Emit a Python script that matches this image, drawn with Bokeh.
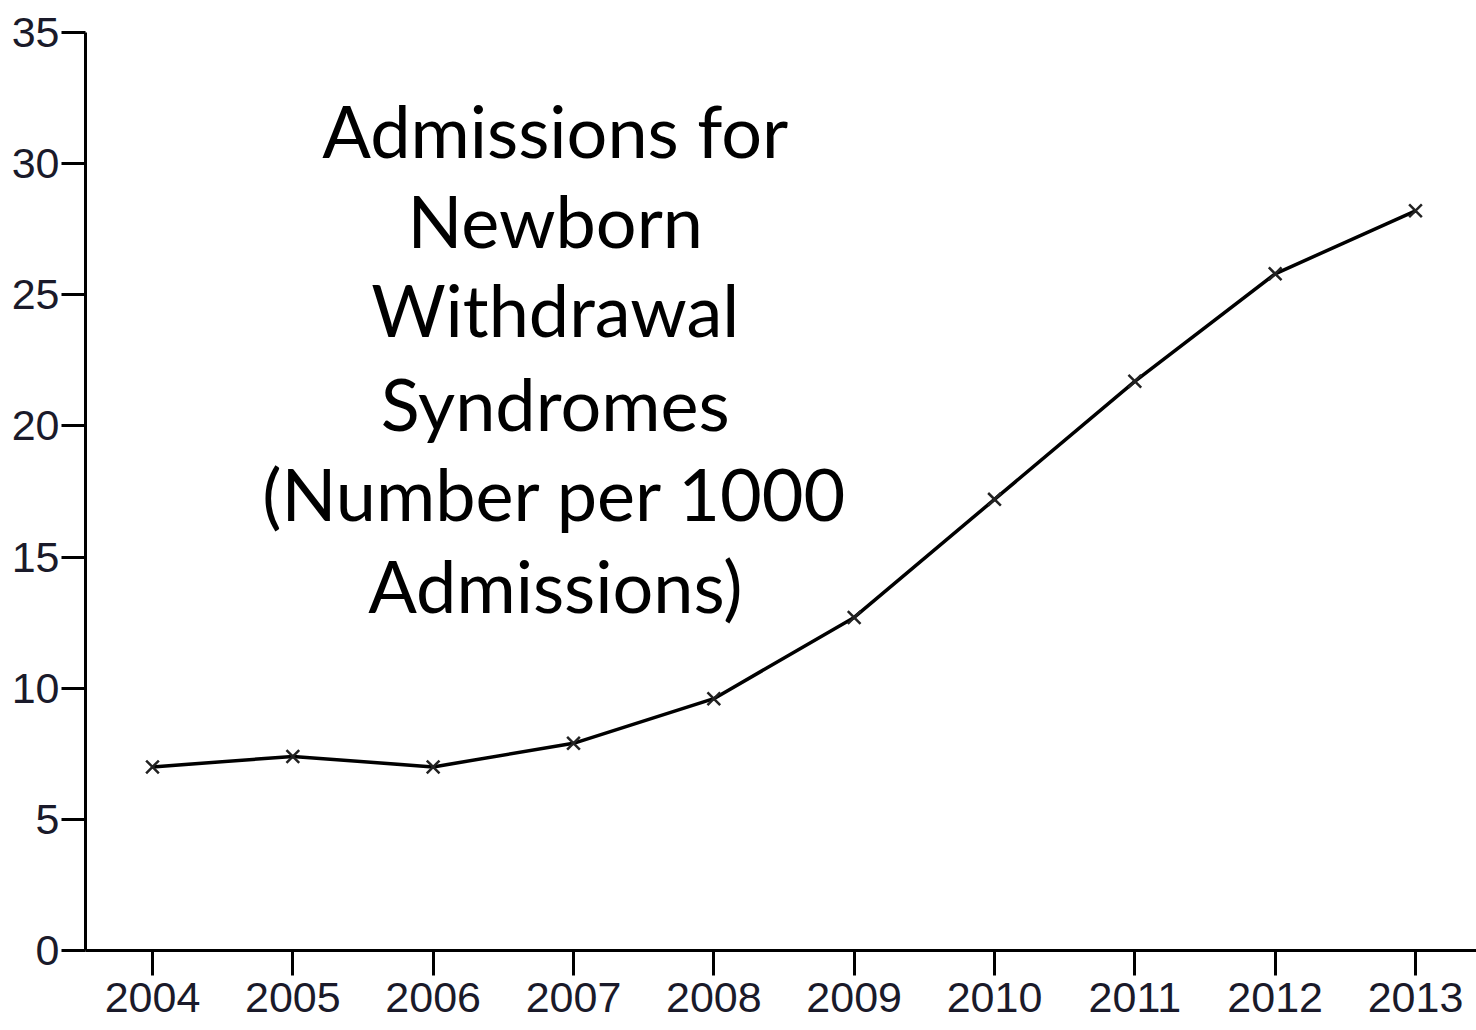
from bokeh.plotting import figure
from bokeh.models import Range1d, Label, FixedTicker
from bokeh.embed import file_html
from bokeh.resources import INLINE

years = [2004, 2005, 2006, 2007, 2008, 2009, 2010, 2011, 2012, 2013]
rates = [7.0, 7.4, 7.0, 7.9, 9.6, 12.7, 17.2, 21.7, 25.8, 28.2]
y_ticks = [0, 5, 10, 15, 20, 25, 30, 35]
title_lines = ["Admissions for", "Newborn", "Withdrawal", "Syndromes",
               "(Number per 1000", "Admissions)"]

p = figure(width=1476, height=1030, output_backend="svg", toolbar_location=None,
           x_range=Range1d(2003.5226, 2013.4347), y_range=Range1d(0, 35),
           min_border_left=85, min_border_right=0, min_border_top=32,
           min_border_bottom=80)
p.outline_line_color = None
p.grid.visible = False
p.background_fill_color = "white"
p.border_fill_color = "white"

for ax in (p.xaxis[0], p.yaxis[0]):
    ax.axis_line_width = 3
    ax.axis_line_color = "black"
    ax.major_tick_line_width = 3
    ax.major_tick_line_color = "black"
    ax.major_tick_in = 0
    ax.minor_tick_line_color = None
    ax.major_label_text_font = "Liberation Sans"
    ax.major_label_text_font_size = "43px"
    ax.major_label_text_color = "#1a1a2a"

p.xaxis.ticker = FixedTicker(ticks=years)
p.xaxis.major_tick_out = 25
p.xaxis.major_label_standoff = 7
p.yaxis.ticker = FixedTicker(ticks=y_ticks)
p.yaxis.major_tick_out = 24
p.yaxis.major_label_standoff = 2

p.line(years, rates, line_color="black", line_width=3.5)
p.scatter(years, rates, marker="x", size=18, line_color="#222222", line_width=2.5)

cx = 2006.87
line_y = [31.30, 27.87, 24.44, 20.89, 17.46, 13.95]
for t, yy in zip(title_lines, line_y):
    p.add_layout(Label(x=cx, y=yy, text=t, text_align="center", text_baseline="middle",
                       text_font="Lato", text_font_size="72px", text_color="black"))

open("out.html", "w").write(file_html(p, INLINE))
